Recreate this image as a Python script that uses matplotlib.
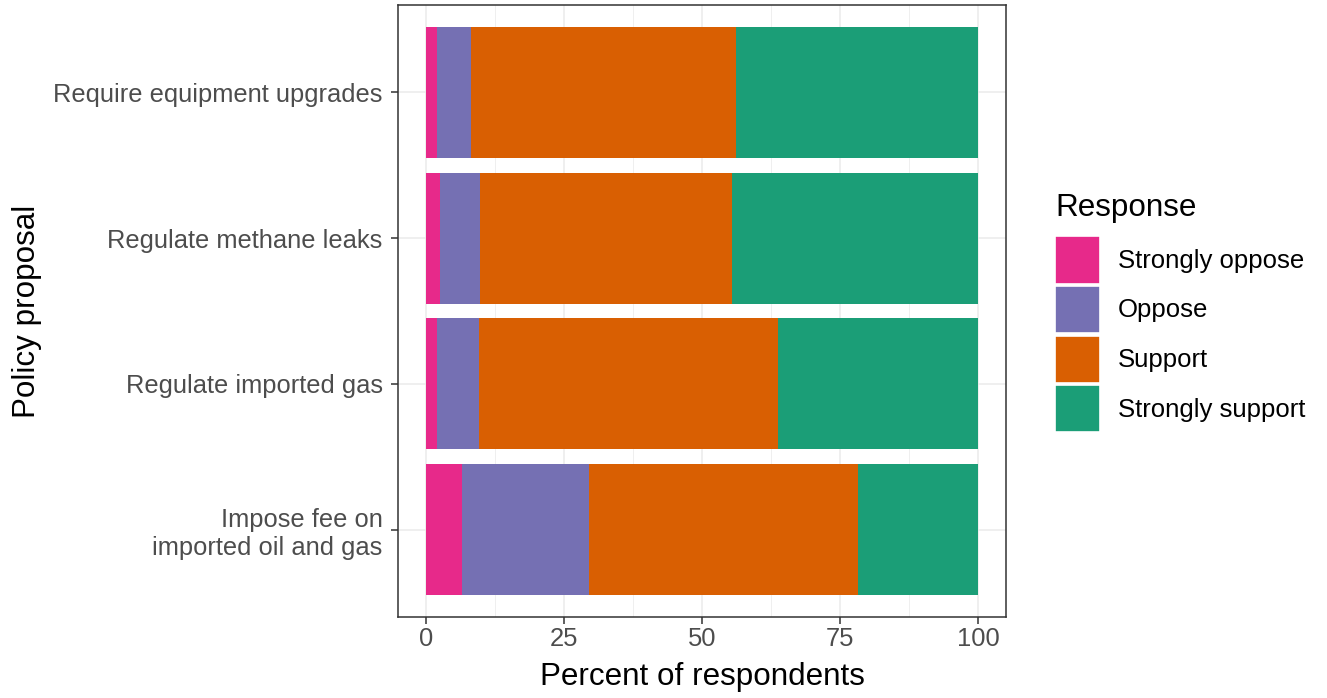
import numpy as np
import matplotlib.pyplot as plt
from matplotlib.patches import Patch
from matplotlib.ticker import MultipleLocator

plt.rcParams['font.family'] = ['Liberation Sans', 'DejaVu Sans']

# データ (上から下の順)
proposals = ['Require equipment upgrades', 'Regulate methane leaks',
             'Regulate imported gas', 'Impose fee on\nimported oil and gas']
responses = ['Strongly oppose', 'Oppose', 'Support', 'Strongly support']
strongly_oppose = [2.1, 2.6, 2.0, 6.5]
oppose = [6.1, 7.3, 7.6, 23.1]
support = [48.0, 45.5, 54.2, 48.6]
strongly_support = [43.8, 44.6, 36.2, 21.8]
colors = ['#E7298A', '#7570B3', '#D95F02', '#1B9E77']

fig = plt.figure(figsize=(13.27, 6.98), dpi=100)
ax = fig.add_axes([398 / 1327, 1 - 617 / 698, 608 / 1327, 612 / 698])

y = np.arange(len(proposals))[::-1] + 1
left = np.zeros(len(proposals))
for vals, col, name in zip([strongly_oppose, oppose, support, strongly_support], colors, responses):
    ax.barh(y, vals, left=left, height=0.9, color=col, label=name, zorder=2)
    left = left + np.array(vals)

ax.set_xlim(-5, 105)
ax.set_ylim(0.4, 4.6)
ax.xaxis.set_major_locator(MultipleLocator(25))
ax.xaxis.set_minor_locator(MultipleLocator(12.5))
ax.set_yticks(y)
ax.set_yticklabels(proposals)

# グリッド (ggplot theme_bw 風)
ax.grid(True, which='major', color='#EBEBEB', linewidth=1.1, zorder=0)
ax.grid(True, which='minor', axis='x', color='#EBEBEB', linewidth=0.55, zorder=0)
ax.set_axisbelow(True)
for sp in ax.spines.values():
    sp.set_color('#333333')
    sp.set_linewidth(1.1)
ax.tick_params(which='major', length=5, width=1.1, color='#333333',
               labelcolor='#4D4D4D', labelsize=18.4)
ax.tick_params(axis='y', pad=6)
ax.tick_params(axis='x', pad=2)
ax.tick_params(which='minor', length=0)
for t in ax.get_yticklabels():
    t.set_horizontalalignment('right')
    t.set_multialignment('right')

ax.set_xlabel('Percent of respondents', fontsize=22.6, labelpad=8)
ax.set_ylabel('Policy proposal', fontsize=22.6, labelpad=8)

handles = [Patch(facecolor=c, edgecolor='white', linewidth=1.2) for c in colors]
leg = fig.legend(handles, responses, loc='upper left', bbox_to_anchor=(1045 / 1327, 1 - 183 / 698),
                 frameon=False, fontsize=18.5, title='Response', title_fontsize=22.6,
                 handlelength=1.75, handleheight=2.45, labelspacing=0.09, handletextpad=0.7,
                 borderaxespad=0)
leg._legend_box.align = 'left'
leg._legend_box.sep = 9.5

fig.savefig('out.png', dpi=100)
